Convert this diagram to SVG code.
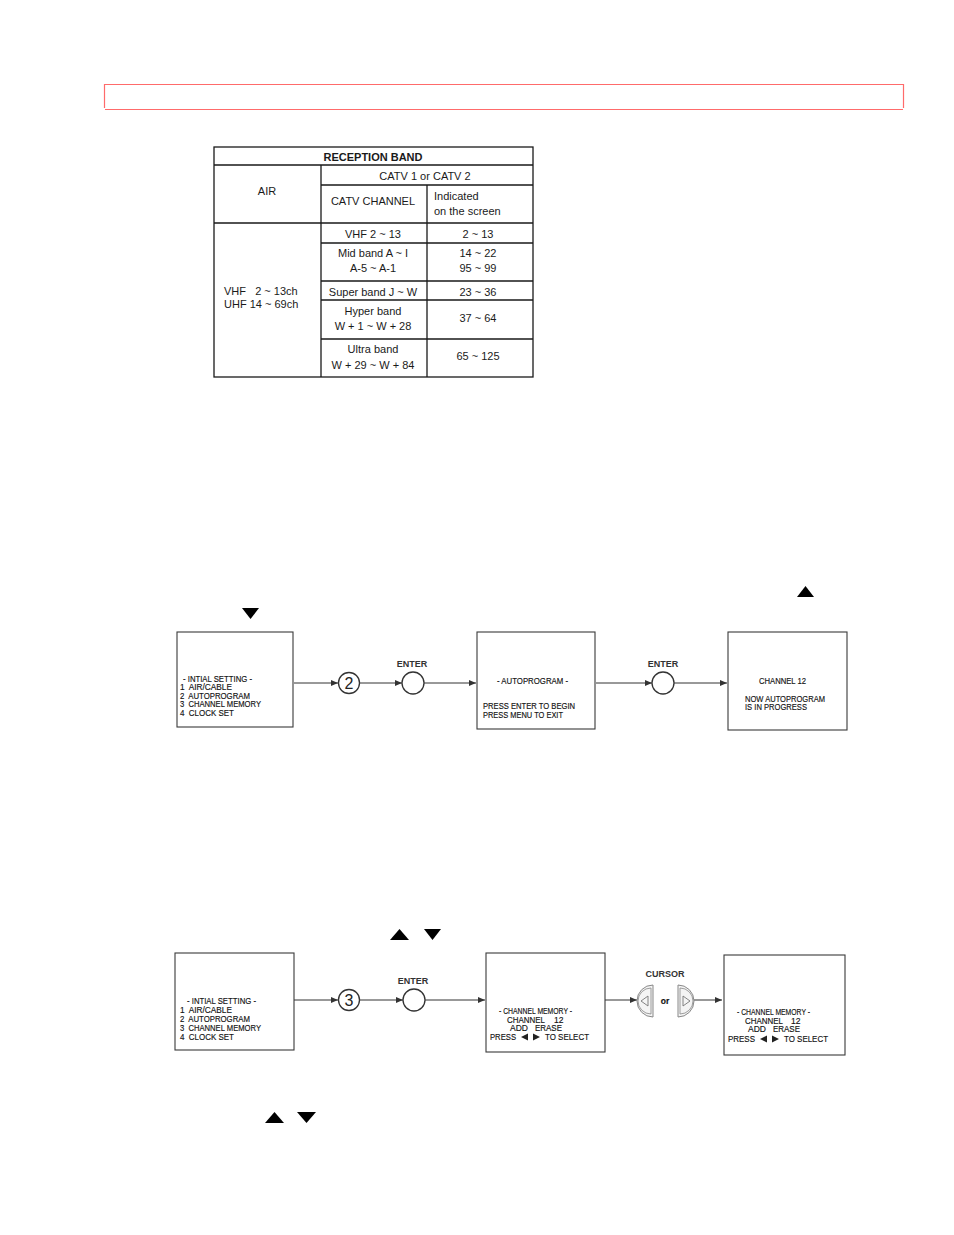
<svg xmlns="http://www.w3.org/2000/svg" width="954" height="1235" viewBox="0 0 954 1235">
<style>
.t{font-family:"Liberation Sans",Arial,sans-serif;font-size:11px;fill:#1a1a1a}
.tb{font-family:"Liberation Sans",Arial,sans-serif;font-size:11px;font-weight:bold;fill:#1a1a1a}
.tl{stroke:#1a1a1a;stroke-width:1.3;fill:none}
.box{fill:#fff;stroke:#3a3a3a;stroke-width:1.1}
.s{font-family:"Liberation Sans Narrow","Liberation Sans",Arial,sans-serif;font-size:8.5px;fill:#111;stroke:#111;stroke-width:0.15}
.lbl{font-family:"Liberation Sans",Arial,sans-serif;font-size:9px;font-weight:bold;fill:#333}
.con{stroke:#333;stroke-width:1;fill:none;marker-end:url(#ah)}
.btn{fill:#fff;stroke:#333;stroke-width:1.3}
.num{font-family:"Liberation Sans",Arial,sans-serif;font-size:16px;fill:#222}
.cur{fill:#f4f4f4;stroke:#888;stroke-width:1}
</style>
<defs>
<marker id="ah" markerWidth="7" markerHeight="6" refX="7" refY="3" orient="auto" markerUnits="userSpaceOnUse">
<path d="M0,0 L7,3 L0,6 z" fill="#333"/>
</marker>
</defs>
<rect width="954" height="1235" fill="#fff"/>
<!-- header bar -->
<g id="header">
<path d="M104.5,108 V84.5 H903.5 V108" fill="none" stroke="#ff6b6b" stroke-width="1.2"/>
<path d="M105,109.5 H903" fill="none" stroke="#ff6b6b" stroke-width="1.2"/>
</g>
<!-- table -->
<g id="table">
<rect x="214" y="147" width="319" height="230" class="tl"/>
<path class="tl" d="M214,165 H533 M321,185 H533 M214,223 H533 M321,243 H533 M321,281 H533 M321,300 H533 M321,339 H533 M321,165 V377 M427,185 V377"/>
<text class="tb" x="373" y="161" text-anchor="middle">RECEPTION BAND</text>
<text class="t" x="425" y="180" text-anchor="middle">CATV 1 or CATV 2</text>
<text class="t" x="267" y="195" text-anchor="middle">AIR</text>
<text class="t" x="373" y="205" text-anchor="middle">CATV CHANNEL</text>
<text class="t" x="434" y="200">Indicated</text>
<text class="t" x="434" y="215">on the screen</text>
<text class="t" x="373" y="238" text-anchor="middle">VHF 2 ~ 13</text>
<text class="t" x="478" y="238" text-anchor="middle">2 ~ 13</text>
<text class="t" x="373" y="257" text-anchor="middle">Mid band A ~ I</text>
<text class="t" x="373" y="272" text-anchor="middle">A-5 ~ A-1</text>
<text class="t" x="478" y="257" text-anchor="middle">14 ~ 22</text>
<text class="t" x="478" y="272" text-anchor="middle">95 ~ 99</text>
<text class="t" x="373" y="296" text-anchor="middle">Super band J ~ W</text>
<text class="t" x="478" y="296" text-anchor="middle">23 ~ 36</text>
<text class="t" x="373" y="315" text-anchor="middle">Hyper band</text>
<text class="t" x="373" y="330" text-anchor="middle">W + 1 ~ W + 28</text>
<text class="t" x="478" y="322" text-anchor="middle">37 ~ 64</text>
<text class="t" x="373" y="353" text-anchor="middle">Ultra band</text>
<text class="t" x="373" y="369" text-anchor="middle">W + 29 ~ W + 84</text>
<text class="t" x="478" y="360" text-anchor="middle">65 ~ 125</text>
<text class="t" x="224" y="295" xml:space="preserve">VHF   2 ~ 13ch</text>
<text class="t" x="224" y="308">UHF 14 ~ 69ch</text>
</g>
<!-- loose triangles -->
<g id="symbols" fill="#000">
<polygon points="797,597 814,597 805.5,586"/>
<polygon points="242,608 259,608 250.5,619"/>
<polygon points="390,940 409,940 399.5,929"/>
<polygon points="424,929 441,929 432.5,940"/>
<polygon points="265,1123 284,1123 274.5,1112"/>
<polygon points="297,1112 316,1112 306.5,1123"/>
</g>
<!-- connectors -->
<g id="connectors">
<line class="con" x1="294" y1="683" x2="338" y2="683"/>
<line class="con" x1="360" y1="683" x2="402" y2="683"/>
<line class="con" x1="424" y1="683" x2="476" y2="683"/>
<line class="con" x1="596" y1="683" x2="652" y2="683"/>
<line class="con" x1="674" y1="683" x2="727" y2="683"/>
<line class="con" x1="294" y1="1000" x2="338" y2="1000"/>
<line class="con" x1="360" y1="1000" x2="403" y2="1000"/>
<line class="con" x1="425" y1="1000" x2="485" y2="1000"/>
<line class="con" x1="605" y1="1000" x2="637" y2="1000"/>
<line class="con" x1="694" y1="1000" x2="722" y2="1000"/>
</g>
<!-- row 1 -->
<g id="r1-initial">
<rect class="box" x="177" y="632" width="116" height="95"/>
<text class="s" x="183" y="682" textLength="69" lengthAdjust="spacingAndGlyphs">- INTIAL SETTING -</text>
<text class="s" x="180" y="690" textLength="52" lengthAdjust="spacingAndGlyphs" xml:space="preserve">1  AIR/CABLE</text>
<text class="s" x="180" y="699" textLength="70" lengthAdjust="spacingAndGlyphs" xml:space="preserve">2  AUTOPROGRAM</text>
<text class="s" x="180" y="707" textLength="81" lengthAdjust="spacingAndGlyphs" xml:space="preserve">3  CHANNEL MEMORY</text>
<text class="s" x="180" y="716" textLength="54" lengthAdjust="spacingAndGlyphs" xml:space="preserve">4  CLOCK SET</text>
</g>
<g id="r1-btn2">
<circle class="btn" cx="349" cy="683" r="10.5"/>
<text class="num" x="349" y="689" text-anchor="middle">2</text>
</g>
<g id="r1-enter1">
<text class="lbl" x="412" y="667" text-anchor="middle">ENTER</text>
<circle class="btn" cx="413" cy="683" r="11"/>
</g>
<g id="r1-autoprogram">
<rect class="box" x="477" y="632" width="118" height="97"/>
<text class="s" x="497" y="684" textLength="71" lengthAdjust="spacingAndGlyphs">- AUTOPROGRAM -</text>
<text class="s" x="483" y="709" textLength="92" lengthAdjust="spacingAndGlyphs">PRESS ENTER TO BEGIN</text>
<text class="s" x="483" y="718" textLength="80" lengthAdjust="spacingAndGlyphs">PRESS MENU TO EXIT</text>
</g>
<g id="r1-enter2">
<text class="lbl" x="663" y="667" text-anchor="middle">ENTER</text>
<circle class="btn" cx="663" cy="683" r="11"/>
</g>
<g id="r1-progress">
<rect class="box" x="728" y="632" width="119" height="98"/>
<text class="s" x="759" y="684" textLength="47" lengthAdjust="spacingAndGlyphs">CHANNEL 12</text>
<text class="s" x="745" y="702" textLength="80" lengthAdjust="spacingAndGlyphs">NOW AUTOPROGRAM</text>
<text class="s" x="745" y="710" textLength="62" lengthAdjust="spacingAndGlyphs">IS IN PROGRESS</text>
</g>
<!-- row 2 -->
<g id="r2-initial">
<rect class="box" x="175" y="953" width="119" height="97"/>
<text class="s" x="187" y="1004" textLength="69" lengthAdjust="spacingAndGlyphs">- INTIAL SETTING -</text>
<text class="s" x="180" y="1013" textLength="52" lengthAdjust="spacingAndGlyphs" xml:space="preserve">1  AIR/CABLE</text>
<text class="s" x="180" y="1022" textLength="70" lengthAdjust="spacingAndGlyphs" xml:space="preserve">2  AUTOPROGRAM</text>
<text class="s" x="180" y="1031" textLength="81" lengthAdjust="spacingAndGlyphs" xml:space="preserve">3  CHANNEL MEMORY</text>
<text class="s" x="180" y="1040" textLength="54" lengthAdjust="spacingAndGlyphs" xml:space="preserve">4  CLOCK SET</text>
</g>
<g id="r2-btn3">
<circle class="btn" cx="349" cy="1000" r="10.5"/>
<text class="num" x="349" y="1006" text-anchor="middle">3</text>
</g>
<g id="r2-enter">
<text class="lbl" x="413" y="984" text-anchor="middle">ENTER</text>
<circle class="btn" cx="414" cy="1000" r="11"/>
</g>
<g id="r2-memory1">
<rect class="box" x="486" y="953" width="119" height="99"/>
<text class="s" x="499" y="1014" textLength="73" lengthAdjust="spacingAndGlyphs">- CHANNEL MEMORY -</text>
<text class="s" x="507" y="1023" textLength="38" lengthAdjust="spacingAndGlyphs">CHANNEL</text>
<text class="s" x="554" y="1023">12</text>
<text class="s" x="510" y="1031">ADD</text>
<text class="s" x="535" y="1031" textLength="27" lengthAdjust="spacingAndGlyphs">ERASE</text>
<text class="s" x="490" y="1040" textLength="26" lengthAdjust="spacingAndGlyphs">PRESS</text>
<polygon points="521,1037 528,1033.5 528,1040.5" fill="#222"/>
<polygon points="540,1037 533,1033.5 533,1040.5" fill="#222"/>
<text class="s" x="545" y="1040" textLength="44" lengthAdjust="spacingAndGlyphs">TO SELECT</text>
</g>
<g id="r2-cursor">
<text class="lbl" x="665" y="977" text-anchor="middle">CURSOR</text>
<path class="cur" d="M653,985 V1017 A16,16 0 0 1 653,985 z"/>
<path fill="none" stroke="#888" stroke-width="0.8" d="M651,988 V1014 A13,13 0 0 1 651,988 z"/>
<polygon points="641,1001 648,996 648,1006" fill="none" stroke="#777" stroke-width="0.9"/>
<text class="s" x="665" y="1004" text-anchor="middle" font-weight="bold">or</text>
<path class="cur" d="M678,985 V1017 A16,16 0 0 0 678,985 z"/>
<path fill="none" stroke="#888" stroke-width="0.8" d="M680,988 V1014 A13,13 0 0 0 680,988 z"/>
<polygon points="690,1001 683,996 683,1006" fill="none" stroke="#777" stroke-width="0.9"/>
</g>
<g id="r2-memory2">
<rect class="box" x="724" y="955" width="121" height="100"/>
<text class="s" x="737" y="1015" textLength="73" lengthAdjust="spacingAndGlyphs">- CHANNEL MEMORY -</text>
<text class="s" x="745" y="1024" textLength="38" lengthAdjust="spacingAndGlyphs">CHANNEL</text>
<text class="s" x="791" y="1024">12</text>
<text class="s" x="748" y="1032">ADD</text>
<text class="s" x="773" y="1032" textLength="27" lengthAdjust="spacingAndGlyphs">ERASE</text>
<text class="s" x="728" y="1042" textLength="27" lengthAdjust="spacingAndGlyphs">PRESS</text>
<polygon points="760,1039 767,1035.5 767,1042.5" fill="#222"/>
<polygon points="779,1039 772,1035.5 772,1042.5" fill="#222"/>
<text class="s" x="784" y="1042" textLength="44" lengthAdjust="spacingAndGlyphs">TO SELECT</text>
</g>
</svg>
